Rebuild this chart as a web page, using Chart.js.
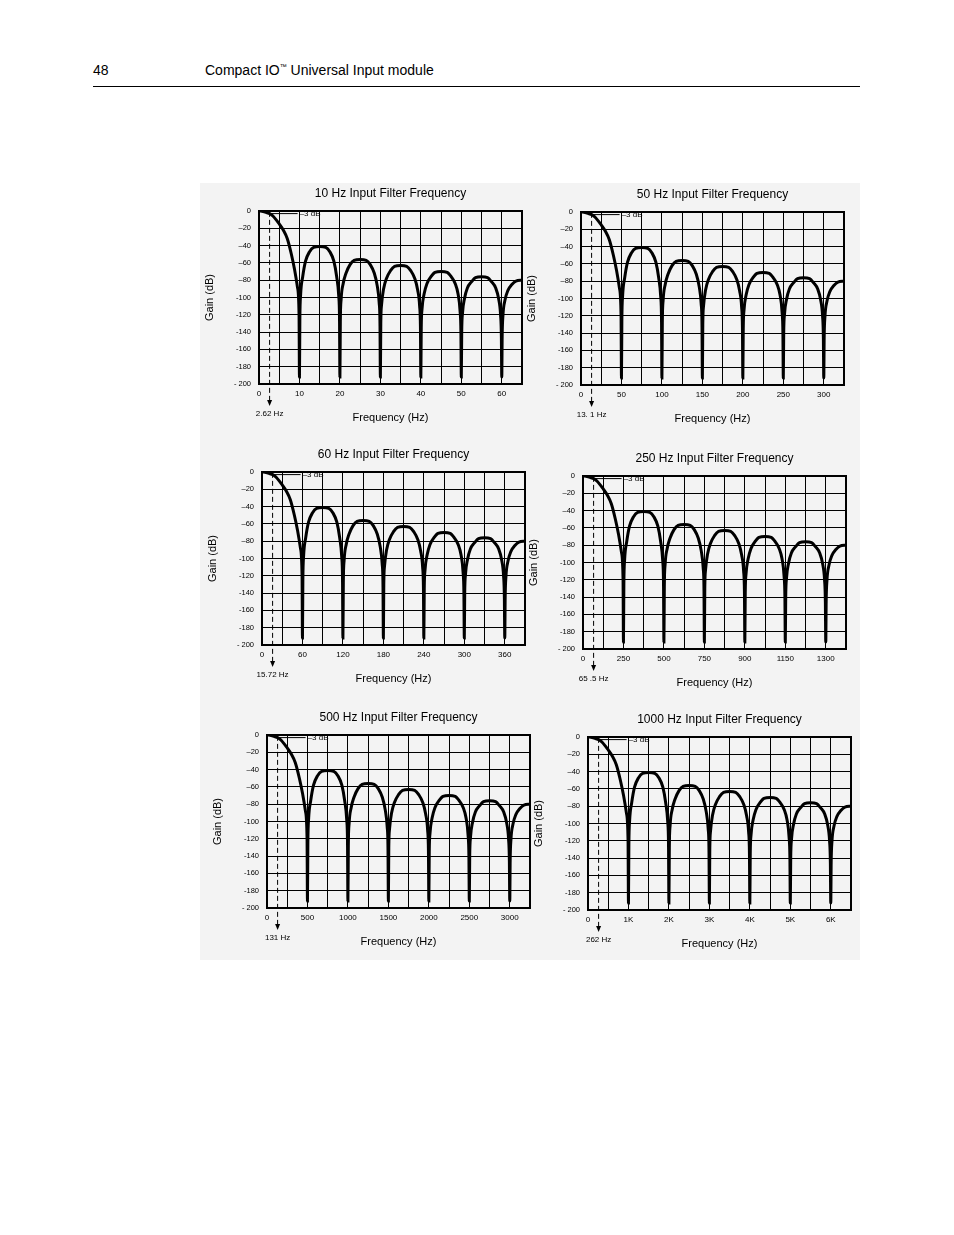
<!doctype html>
<html>
<head>
<meta charset="utf-8" />
<title>Input Filter Frequency</title>
<style>
  body{margin:0;width:954px;height:1235px;position:relative;background:#fff;font-family:"Liberation Sans Narrow","Liberation Sans",Arial,sans-serif}
  .hdr{position:absolute;top:62px;font-size:14px;color:#000}
  .rule{position:absolute;left:93px;top:86px;width:767px;height:1px;background:#000}
  .panel{position:absolute;left:200px;top:183px;width:660px;height:777px;background:#f3f3f3}
  canvas{position:absolute}
</style>
</head>
<body>
  <div class="hdr" style="left:93px">48</div>
  <div class="hdr" style="left:205px">Compact IO<sup style="font-size:7px">™</sup> Universal Input module</div>
  <div class="rule"></div>
  <div class="panel"></div>
  <canvas id="c0" width="333" height="250"></canvas>
  <canvas id="c1" width="333" height="250"></canvas>
  <canvas id="c2" width="333" height="250"></canvas>
  <canvas id="c3" width="333" height="250"></canvas>
  <canvas id="c4" width="333" height="250"></canvas>
  <canvas id="c5" width="333" height="250"></canvas>

<script src="https://cdn.jsdelivr.net/npm/chart.js@4.4.1/dist/chart.umd.min.js"></script>
<script>
// shared response shape: x in multiples of the notch frequency, y in dB
const shapeX = [0,0.1,0.2,0.262,0.35,0.5,0.6,0.7,0.8,0.88,0.95,0.99,1,
  1.01,1.03,1.08,1.15,1.25,1.35,1.5,1.65,1.75,1.85,1.92,1.97,1.99,2,
  2.01,2.03,2.08,2.15,2.25,2.35,2.5,2.65,2.75,2.85,2.92,2.97,2.99,3,
  3.01,3.03,3.08,3.15,3.25,3.35,3.5,3.65,3.75,3.85,3.92,3.97,3.99,4,
  4.01,4.03,4.08,4.15,4.25,4.35,4.5,4.65,4.75,4.85,4.92,4.97,4.99,5,
  5.01,5.03,5.08,5.15,5.25,5.35,5.5,5.65,5.75,5.85,5.92,5.97,5.99,6,
  6.01,6.03,6.08,6.15,6.25,6.35,6.5];
const gainDb = [0,-0.5,-2,-3,-6,-15,-22,-32,-50,-68,-88,-120,-192,
  -125,-96,-76,-58,-47,-42,-41,-42,-47,-58,-76,-98,-125,-192,
  -128,-102,-84,-72,-62,-57,-56,-57,-62,-72,-86,-106,-130,-192,
  -130,-108,-90,-78,-69,-64,-63,-64,-69,-78,-91,-110,-135,-192,
  -135,-113,-96,-84,-76,-71,-70,-71,-76,-84,-96,-116,-140,-192,
  -140,-118,-101,-89,-82,-77,-76,-77,-82,-89,-101,-120,-145,-192,
  -145,-120,-103,-92,-85,-81,-80];

const titles = ['10 Hz Input Filter Frequency','50 Hz Input Filter Frequency','60 Hz Input Filter Frequency',
  '250 Hz Input Filter Frequency','500 Hz Input Filter Frequency','1000 Hz Input Filter Frequency'];
const notchHz = [10,50,60,250,500,1000];
const cutoffHz = [2.62,13.1,15.72,65.5,131,262];
const cutoffLabels = ['2.62 Hz','13. 1 Hz','15.72 Hz','65 .5 Hz','131 Hz','262 Hz'];
const xTickLabels = [
  ['0','10','20','30','40','50','60'],
  ['0','50','100','150','200','250','300'],
  ['0','60','120','180','240','300','360'],
  ['0','250','500','750','900','1150','1300'],
  ['0','500','1000','1500','2000','2500','3000'],
  ['0','1K','2K','3K','4K','5K','6K']
];
const yTicks = [0,-20,-40,-60,-80,-100,-120,-140,-160,-180,-200];
// plot area top-left corners on the page
const plotPos = [[259,211],[581,212],[262,472],[583,476],[267,735],[588,737]];

const FONT = '"Liberation Sans Narrow","Liberation Sans",Arial,sans-serif';

function yLabel(v){
  if(v===0) return '0';
  if(v>-100) return '\u2013'+Math.abs(v);
  if(v===-200) return '- 200';
  return String(v);
}

const decor = {
  id:'decor',
  afterDraw(chart){
    const o = chart.options.plugins.decor;
    const {ctx, chartArea:a, scales:{x,y}} = chart;
    ctx.save();
    ctx.strokeStyle='#000'; ctx.lineWidth=2;
    ctx.strokeRect(a.left,a.top,a.right-a.left,a.bottom-a.top);
    ctx.fillStyle='#000'; ctx.font='12px '+FONT; ctx.textAlign='center';
    ctx.fillText(o.title,(a.left+a.right)/2,a.top-14);
    const cx = x.getPixelForValue(o.cutoff);
    ctx.lineWidth=1; ctx.setLineDash([5,3]);
    ctx.beginPath(); ctx.moveTo(cx,y.getPixelForValue(-1)); ctx.lineTo(cx,a.bottom+18); ctx.stroke();
    ctx.setLineDash([]);
    ctx.beginPath(); ctx.moveTo(cx-2.5,a.bottom+16); ctx.lineTo(cx+2.5,a.bottom+16); ctx.lineTo(cx,a.bottom+22); ctx.closePath(); ctx.fill();
    ctx.font='8px '+FONT;
    ctx.fillText(o.cutoffLabel,cx,a.bottom+32);
    const py = y.getPixelForValue(-3);
    ctx.beginPath(); ctx.moveTo(cx,py); ctx.lineTo(cx+28,py); ctx.stroke();
    ctx.textAlign='left'; ctx.fillText('\u20133 dB',cx+30,py+2);
    ctx.restore();
  }
};

titles.forEach((t,i)=>{
  const cv = document.getElementById('c'+i);
  cv.style.left = (plotPos[i][0]-60)+'px';
  cv.style.top = (plotPos[i][1]-32)+'px';
  const n = notchHz[i];
  const pts = shapeX.map((v,k)=>({x:v*n, y:gainDb[k]}));
  new Chart(cv,{
    type:'line',
    data:{datasets:[{data:pts,borderColor:'#000',borderWidth:3,pointRadius:0,cubicInterpolationMode:'monotone',fill:false}]},
    plugins:[decor],
    options:{
      responsive:false, animation:false, devicePixelRatio:1,
      layout:{padding:{top:32,right:10}},
      plugins:{legend:{display:false},tooltip:{enabled:false},
        decor:{title:t,cutoff:cutoffHz[i],cutoffLabel:cutoffLabels[i]}},
      scales:{
        x:{type:'linear',min:0,max:6.5*n,
          afterFit(s){s.height=45;},
          ticks:{stepSize:n/2,autoSkip:false,maxRotation:0,padding:5,color:'#000',font:{size:8,family:FONT},
            callback:(v)=>{const k=Math.round(v/(n/2)); return k%2===0 && k/2<xTickLabels[i].length ? xTickLabels[i][k/2] : '';}},
          grid:{color:'#000',lineWidth:1,drawTicks:false},
          border:{color:'#000',width:2},
          title:{display:true,text:'Frequency (Hz)',color:'#000',font:{size:11,family:FONT},padding:{top:0}}
        },
        y:{min:-200,max:0,
          afterFit(s){s.width=60;},
          afterBuildTicks(s){s.ticks=yTicks.map(v=>({value:v}));},
          ticks:{padding:8,color:'#000',font:{size:7.5,family:FONT},callback:yLabel},
          grid:{color:'#000',lineWidth:1,drawTicks:false},
          border:{color:'#000',width:2},
          title:{display:true,text:'Gain (dB)',color:'#000',font:{size:11,family:FONT},padding:{bottom:4}}
        }
      }
    }
  });
});
</script>
</body>
</html>
